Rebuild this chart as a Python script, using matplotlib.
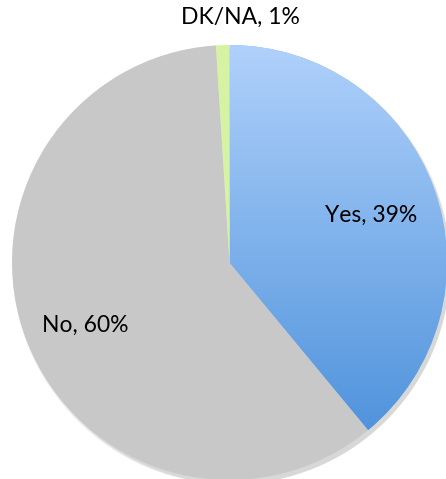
import matplotlib
matplotlib.use("Agg")
import matplotlib.pyplot as plt
import numpy as np
from matplotlib.colors import LinearSegmentedColormap

categories = ["Yes", "No", "DK/NA"]
values = [39, 60, 1]
labels = ["Yes, 39%", "No, 60%", "DK/NA, 1%"]
colors = ["#8fbcf0", "#c8c8c8", "#d6f3a4"]

W, H = 446, 479
fig = plt.figure(figsize=(W / 100, H / 100), dpi=100)
ax = fig.add_axes([0, 0, 1, 1])

cx, cy, r = 229.5, H - 262.5, 217.5

# soft shadow
for i, a in enumerate([0.04, 0.04, 0.04, 0.04]):
    sh = plt.Circle((cx + 2 + i * 0.6, cy - 3 - i * 0.6), r + 1.5 - i * 0.8, color="black", alpha=a, lw=0, zorder=0)
    ax.add_patch(sh)

wedges, _ = ax.pie(values, colors=colors, startangle=90, counterclock=False,
                   center=(cx, cy), radius=r, frame=True,
                   wedgeprops=dict(linewidth=0))
ax.set_xlim(0, W)
ax.set_ylim(0, H)
ax.axis("off")

# gradient on the Yes wedge
cmap = LinearSegmentedColormap.from_list("g", ["#4c91db", "#b0d1fb"])
grad = np.linspace(0, 1, 256).reshape(-1, 1)
im = ax.imshow(grad, cmap=cmap, origin="lower", aspect="auto",
               extent=(cx, cx + r, cy - r * 0.85, cy + r), zorder=2)
im.set_clip_path(wedges[0])

fs = 16.5
fam = ["Lato", "DejaVu Sans"]
ax.text(371, H - 215, labels[0], ha="center", va="center", fontsize=fs, family=fam, zorder=5)
ax.text(85, H - 325, labels[1], ha="center", va="center", fontsize=fs, family=fam, zorder=5)
ax.text(240, H - 17, labels[2], ha="center", va="center", fontsize=fs, family=fam, zorder=5)

fig.savefig("out.png", dpi=100)
